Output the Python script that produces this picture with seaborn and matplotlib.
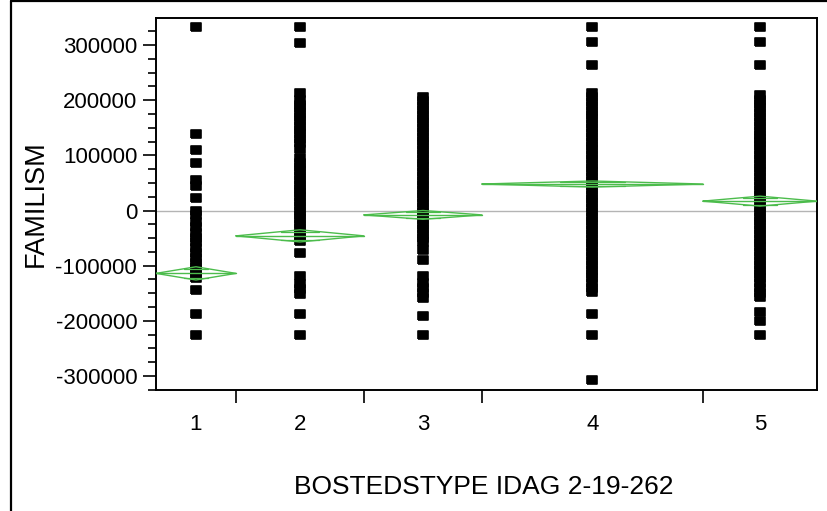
import matplotlib
matplotlib.use("Agg")
import matplotlib.pyplot as plt
from matplotlib.lines import Line2D
import numpy as np
import pandas as pd
import seaborn as sns

# --------------------------------------------------------------------------- #
# Data
# --------------------------------------------------------------------------- #
groups = ["1", "2", "3", "4", "5"]
group_size = [80, 128, 118, 221, 114]          # category widths are proportional to n

famil_1 = [333000, 139000, 110000, 86000, 55000, 45000, 22000, 0, -8000, -20000,
           -30000, -40000, -50000, -58000, -68000, -77000, -86000, -95000, -103000,
           -110000, -117000, -122000, -145000, -188000, -226000]
famil_2 = [333000, 304000, 213000, 200000, 192000, 185000, 177000, 170000, 162000,
           154000, 146000, 138000, 130000, 122000, 111000, 95000, 87000, 79000, 71000,
           63000, 55000, 47000, 39000, 31000, 25000, 16000, 8000, 0, -8000, -16000,
           -24000, -32000, -40000, -48000, -56000, -77000, -119000, -133000, -143000,
           -151000, -188000, -226000]
famil_3 = [206000, 198000, 190000, 182000, 174000, 166000, 158000, 150000, 142000,
           134000, 126000, 118000, 110000, 102000, 94000, 86000, 78000, 70000, 62000,
           54000, 46000, 38000, 30000, 22000, 14000, 6000, -2000, -10000, -18000,
           -26000, -34000, -42000, -50000, -58000, -72000, -90000, -119000, -131000,
           -140000, -150000, -159000, -191000, -226000]
famil_4 = [333000, 305000, 264000, 213000, 205000, 197000, 189000, 181000, 173000,
           165000, 157000, 149000, 141000, 133000, 125000, 117000, 109000, 101000,
           93000, 85000, 77000, 69000, 61000, 53000, 45000, 37000, 29000, 21000,
           13000, 5000, -3000, -11000, -19000, -27000, -35000, -43000, -51000, -59000,
           -67000, -75000, -83000, -91000, -99000, -107000, -115000, -123000, -131000,
           -140000, -148000, -188000, -226000, -307000]
famil_5 = [333000, 305000, 264000, 209000, 201000, 193000, 185000, 177000, 169000,
           161000, 153000, 145000, 137000, 130000, 124000, 117000, 109000, 101000,
           93000, 85000, 77000, 69000, 61000, 53000, 45000, 37000, 29000, 21000,
           13000, 5000, -3000, -11000, -19000, -27000, -35000, -43000, -51000, -59000,
           -67000, -75000, -83000, -91000, -99000, -107000, -115000, -123000, -131000,
           -140000, -149000, -157000, -184000, -200000, -226000]

group_mean = [-114000, -46000, -8000, 48000, 17000]
group_ci = [12000, 11000, 8000, 5500, 9000]

# --------------------------------------------------------------------------- #
# Style
# --------------------------------------------------------------------------- #
sns.set_style("ticks")
plt.rcParams["font.family"] = ["Liberation Sans", "DejaVu Sans"]

INK = "#000000"
DIAMOND = "#4cbc4c"
REFLINE = "#b4b4b4"

# slightly wide, rounded-corner square marker like the JMP dots
DOT = [(-1.2, -0.95), (1.2, -0.95), (1.2, 0.95), (-1.2, 0.95), (-1.2, -0.95)]

edges = np.concatenate([[0], np.cumsum(group_size)])
centers = (edges[:-1] + edges[1:]) / 2

values = [famil_1, famil_2, famil_3, famil_4, famil_5]
df = pd.DataFrame({
    "x": np.concatenate([[c] * len(v) for c, v in zip(centers, values)]),
    "FAMILISM": np.concatenate(values),
})

fig = plt.figure(figsize=(8.27, 5.11), dpi=100)
ax = fig.add_axes([0.1886, 0.2368, 0.7993, 0.7280])

ax.axhline(0, color=REFLINE, lw=1.0, zorder=1)

sns.scatterplot(data=df, x="x", y="FAMILISM", ax=ax, marker=DOT, s=50, color=INK,
                edgecolor=INK, linewidth=1.2, zorder=3, legend=False)
for coll in ax.collections:
    coll.set_joinstyle("round")

# means diamonds with overlap marks
for lo, hi, c, m, ci in zip(edges[:-1], edges[1:], centers, group_mean, group_ci):
    ax.plot([lo, c, hi, c, lo], [m, m + ci, m, m - ci, m], color=DIAMOND, lw=1.0, zorder=4)
    ax.plot([lo, hi], [m, m], color=DIAMOND, lw=1.0, zorder=4)
    half = (hi - lo) / 2 * (1 - 1 / np.sqrt(2))
    for sgn in (1, -1):
        ax.plot([c - half, c + half], [m + sgn * ci / np.sqrt(2)] * 2, color=DIAMOND, lw=0.9, zorder=4)

ax.set_xlim(edges[0], edges[-1])
ax.set_ylim(-325400, 349000)

ax.set_yticks(np.arange(-300000, 300001, 100000))
ax.set_yticks(np.arange(-325000, 349000, 25000), minor=True)
ax.set_yticklabels([f"{int(v)}" for v in np.arange(-300000, 300001, 100000)])

ax.set_xticks(centers)
ax.set_xticklabels(groups)
ax.set_xticks(edges[1:-1], minor=True)

ax.tick_params(axis="y", which="major", length=9.5, width=1.2, pad=4, labelsize=16, colors=INK)
ax.tick_params(axis="y", which="minor", length=5.8, width=1.2, colors=INK)
ax.tick_params(axis="x", which="major", length=0, pad=17, labelsize=16, colors=INK)
ax.tick_params(axis="x", which="minor", length=9, width=1.2, colors=INK)

for side in ["left", "bottom", "top", "right"]:
    ax.spines[side].set_visible(True)
    ax.spines[side].set_color(INK)
    ax.spines[side].set_linewidth(1.4)

ax.set_xlabel("BOSTEDSTYPE IDAG 2-19-262", fontsize=19, color=INK)
ax.set_ylabel("FAMILISM", fontsize=19.5, color=INK)
ax.xaxis.set_label_coords(0.496, -0.228)
ax.yaxis.set_label_coords(-0.162, 0.5)

# outer report frame (cut off at the right and bottom)
fig.add_artist(Line2D([11 / 827, 11 / 827], [0, 1 - 1.5 / 511], color=INK, lw=1.6))
fig.add_artist(Line2D([11 / 827, 1], [1 - 1.5 / 511, 1 - 1.5 / 511], color=INK, lw=1.6))

fig.savefig("out.png", dpi=100)
